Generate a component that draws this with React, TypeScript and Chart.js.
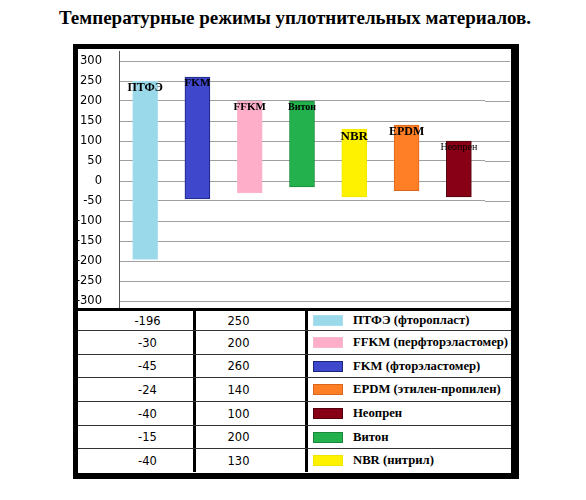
import { useEffect, useRef } from "react";
import { Chart, registerables } from "chart.js";

Chart.register(...registerables);

// materials in the order the bars are drawn
const materials = ["ПТФЭ", "FKM", "FFKM", "Витон", "NBR", "EPDM", "Неопрен"];
const minTemps = [-196, -45, -30, -15, -40, -24, -40];
const maxTemps = [250, 260, 200, 200, 130, 140, 100];
const fullNames = [
  "ПТФЭ (фторопласт)",
  "FKM (фторэластомер)",
  "FFKM (перфторэластомер)",
  "Витон",
  "NBR (нитрил)",
  "EPDM (этилен-пропилен)",
  "Неопрен",
];
// order of rows in the table under the chart
const tableOrder = ["ПТФЭ", "FFKM", "FKM", "EPDM", "Неопрен", "Витон", "NBR"];
const yTicks = [-300, -250, -200, -150, -100, -50, 0, 50, 100, 150, 200, 250, 300];

const fillColors = ["#99d9ea", "#3f48cc", "#ffaec9", "#22b14c", "#fff200", "#ff7f27", "#880015"];
const edgeColors = ["#a9dfee", "#1c237a", "#f7b9ce", "#188a3a", "#f2e600", "#d9661c", "#4e000c"];
const labelFonts = [
  "bold 12px 'Liberation Serif'",
  "bold 11px 'Liberation Serif'",
  "bold 11px 'Liberation Serif'",
  "bold 10px 'Liberation Serif'",
  "bold 13px 'Liberation Serif'",
  "bold 12px 'Liberation Serif'",
  "10px 'Liberation Serif'",
];

const barLabels = {
  id: "barLabels",
  afterDatasetsDraw(chart: any) {
    const ctx = chart.ctx;
    const meta = chart.getDatasetMeta(0);
    ctx.save();
    ctx.fillStyle = "#000";
    ctx.textAlign = "center";
    ctx.textBaseline = "top";
    meta.data.forEach((bar: any, i: number) => {
      ctx.font = labelFonts[i];
      const top = Math.min(bar.y, bar.base);
      ctx.fillText(materials[i], bar.x, top + 1);
    });
    ctx.restore();
  },
};

// grid lines run on past the bars, and the y axis line sticks out a bit
const axisExtras = {
  id: "axisExtras",
  beforeDatasetsDraw(chart: any) {
    const { ctx, chartArea, scales } = chart;
    ctx.save();
    ctx.strokeStyle = "#a0a0a0";
    ctx.lineWidth = 1;
    scales.y.ticks.forEach((t: any) => {
      const py = Math.round(scales.y.getPixelForValue(t.value)) + 0.5;
      ctx.beginPath();
      ctx.moveTo(chartArea.right, py);
      ctx.lineTo(chart.width - 1, py);
      ctx.stroke();
    });
    ctx.strokeStyle = "#555";
    const px = Math.round(chartArea.left) + 0.5;
    ctx.beginPath();
    ctx.moveTo(px, chartArea.top - 10);
    ctx.lineTo(px, chartArea.bottom + 7);
    ctx.stroke();
    ctx.restore();
  },
};

function TempChart() {
  const canvasRef = useRef<HTMLCanvasElement>(null);
  const chartRef = useRef<Chart | null>(null);

  useEffect(() => {
    if (!canvasRef.current) return;
    chartRef.current?.destroy();

    chartRef.current = new Chart(canvasRef.current, {
      type: "bar",
      data: {
        labels: materials,
        datasets: [
          {
            data: materials.map((_, i) => [minTemps[i], maxTemps[i]]) as any,
            backgroundColor: fillColors,
            borderColor: edgeColors,
            borderWidth: 1,
            borderSkipped: false,
            barThickness: 25,
          },
        ],
      },
      options: {
        responsive: false,
        animation: false,
        layout: { padding: { top: 12, bottom: 7, right: 26, left: 0 } },
        plugins: {
          legend: { display: false },
          tooltip: { enabled: false },
        },
        scales: {
          x: { display: false },
          y: {
            min: yTicks[0],
            max: yTicks[yTicks.length - 1],
            afterFit: (s: any) => {
              s.width = 41;
              s.paddingTop = 0;
              s.paddingBottom = 0;
            },
            afterBuildTicks: (s: any) => {
              s.ticks = yTicks.map((v) => ({ value: v }));
            },
            border: { display: false },
            grid: { color: "#a0a0a0", drawTicks: false },
            ticks: {
              padding: 17,
              color: "#000",
              font: { family: "'DejaVu Sans'", size: 11.5 },
            },
          },
        },
      },
      plugins: [barLabels, axisExtras],
    });

    return () => {
      chartRef.current?.destroy();
      chartRef.current = null;
    };
  }, []);

  return <canvas ref={canvasRef} width={433} height={259} style={{ display: "block" }} />;
}

const rowHeights = [20, 24, 23, 24, 24, 23, 23];

export default function App() {
  return (
    <div style={{ position: "absolute", left: 0, top: 0, width: 586, height: 500, background: "#fff" }}>
      <div
        style={{
          position: "absolute",
          left: 0,
          top: 5,
          width: 590,
          textAlign: "center",
          fontFamily: "'Liberation Serif', serif",
          fontWeight: "bold",
          fontSize: 19,
          lineHeight: "26px",
          color: "#000",
          whiteSpace: "nowrap",
        }}
      >
        Температурные режимы уплотнительных материалов.
      </div>

      <div
        style={{
          position: "absolute",
          left: 73,
          top: 44,
          width: 446,
          height: 435,
          boxSizing: "border-box",
          borderStyle: "solid",
          borderColor: "#000",
          borderWidth: "5px 8px 6px 5px",
        }}
      />

      <div style={{ position: "absolute", left: 78, top: 49 }}>
        <TempChart />
      </div>

      <div
        style={{
          position: "absolute",
          left: 78,
          top: 308,
          width: 433,
          borderTop: "3px solid #000",
          fontSize: 11.5,
        }}
      >
        {tableOrder.map((name, r) => {
          const i = materials.indexOf(name);
          return (
            <div
              key={name}
              style={{
                display: "flex",
                height: rowHeights[r],
                boxSizing: "border-box",
                borderBottom: r < tableOrder.length - 1 ? "1px solid #333" : "none",
                alignItems: "center",
              }}
            >
              <div
                style={{
                  width: 118,
                  height: "100%",
                  display: "flex",
                  alignItems: "center",
                  justifyContent: "center",
                  paddingLeft: 24,
                  boxSizing: "border-box",
                  fontFamily: "'DejaVu Sans'",
                  borderRight: "3px solid #000",
                }}
              >
                {minTemps[i]}
              </div>
              <div
                style={{
                  width: 112,
                  height: "100%",
                  display: "flex",
                  alignItems: "center",
                  justifyContent: "center",
                  paddingRight: 24,
                  boxSizing: "border-box",
                  fontFamily: "'DejaVu Sans'",
                  borderRight: "3px solid #000",
                }}
              >
                {maxTemps[i]}
              </div>
              <div
                style={{
                  flex: 1,
                  height: "100%",
                  display: "flex",
                  alignItems: "center",
                  paddingLeft: 5,
                  fontFamily: "'Liberation Serif'",
                  fontWeight: "bold",
                  fontSize: 12.7,
                  whiteSpace: "nowrap",
                }}
              >
                <span
                  style={{
                    display: "inline-block",
                    flex: "none",
                    width: 30,
                    height: 11,
                    boxSizing: "border-box",
                    background: fillColors[i],
                    border: `1px solid ${edgeColors[i]}`,
                    marginRight: 10,
                  }}
                />
                {fullNames[i]}
              </div>
            </div>
          );
        })}
      </div>
    </div>
  );
}
